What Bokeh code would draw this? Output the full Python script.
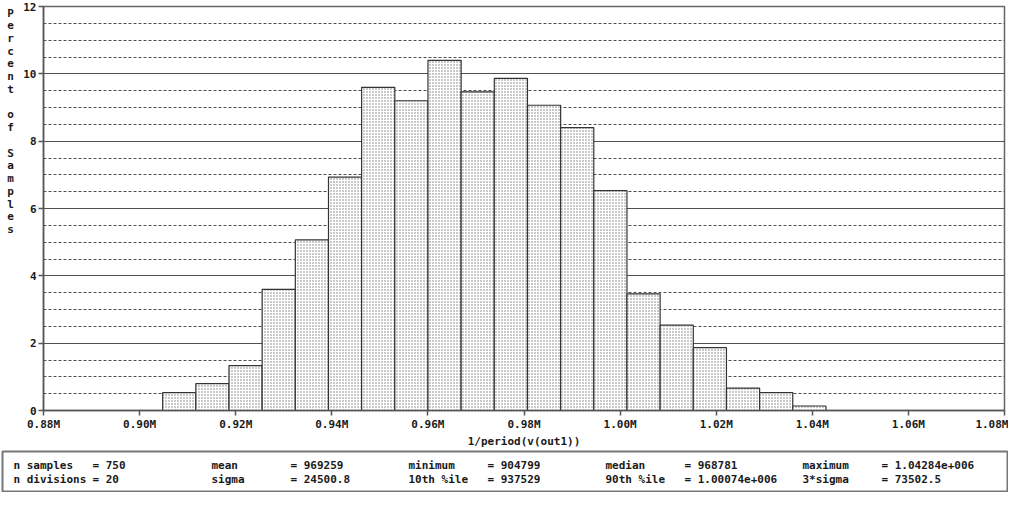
from bokeh.plotting import figure
from bokeh.models import Range1d, FixedTicker, Label
from bokeh.layouts import column, row
from bokeh.embed import file_html
from bokeh.resources import INLINE
from bokeh.core.properties import value

# ---------------- data ----------------
n_samples = 750
n_divisions = 20
minimum = 904799
maximum = 1042840
bin_counts = [4, 6, 10, 27, 38, 52, 72, 69, 78, 71, 74, 68, 63, 49, 26, 19, 14, 5, 4, 1]

x_ticks = [880000, 900000, 920000, 940000, 960000, 980000, 1000000, 1020000, 1040000, 1060000, 1080000]
x_tick_labels = ["0.88M", "0.90M", "0.92M", "0.94M", "0.96M", "0.98M", "1.00M", "1.02M", "1.04M", "1.06M", "1.08M"]
y_ticks = [0, 2, 4, 6, 8, 10, 12]
y_minor_ticks = [0.5, 1, 1.5, 2.5, 3, 3.5, 4.5, 5, 5.5, 6.5, 7, 7.5, 8.5, 9, 9.5, 10.5, 11, 11.5]

x_label = "1/period(v(out1))"
y_label = "Percent of Samples"

stat_names = [["n samples", "n divisions"], ["mean", "sigma"], ["minimum", "10th %ile"],
              ["median", "90th %ile"], ["maximum", "3*sigma"]]
stat_values = [["750", "20"], ["969259", "24500.8"], ["904799", "937529"],
               ["968781", "1.00074e+006"], ["1.04284e+006", "73502.5"]]

# ---------------- derived ----------------
bin_w = (maximum - minimum) / n_divisions
lefts = [minimum + i * bin_w for i in range(n_divisions)]
rights = [minimum + (i + 1) * bin_w for i in range(n_divisions)]
percents = [c / n_samples * 100 for c in bin_counts]

FONT = "DejaVu Sans Mono"
TXT = "#1a1a1a"
H_MAIN = 450
TOP, BOTTOM = 6, 34

# ---------------- stacked y label (narrow side figure) ----------------
side = figure(width=20, height=H_MAIN, x_range=Range1d(0, 20), y_range=Range1d(y_ticks[0], y_ticks[-1]),
              output_backend="svg", toolbar_location=None, x_axis_type=None, y_axis_type=None,
              min_border_left=0, min_border_right=0, min_border_top=TOP, min_border_bottom=BOTTOM)
side.xgrid.grid_line_color = None
side.ygrid.grid_line_color = None
side.outline_line_color = None
side.add_layout(Label(x=10, y=y_ticks[-1], text="\n".join(y_label),
                      text_align="center", text_baseline="top", text_font=FONT, text_font_style="bold",
                      text_font_size="11px", text_color=TXT, text_line_height=0.98))

# ---------------- main histogram ----------------
p = figure(width=988, height=H_MAIN,
           x_range=Range1d(x_ticks[0], x_ticks[-1]), y_range=Range1d(y_ticks[0], y_ticks[-1]),
           output_backend="svg", toolbar_location=None,
           min_border_left=20, min_border_right=4, min_border_top=TOP, min_border_bottom=BOTTOM)
p.background_fill_color = "white"
p.border_fill_color = "white"
p.outline_line_color = "#666666"
p.outline_line_width = 1.5

p.xgrid.grid_line_color = None
p.ygrid.grid_line_color = "#505050"
p.ygrid.grid_line_width = 1
p.ygrid.minor_grid_line_color = "#505050"
p.ygrid.minor_grid_line_dash = "3 2"
p.ygrid.minor_grid_line_width = 1

p.quad(left=lefts, right=rights, top=percents, bottom=0,
       fill_color="white", line_color="#333333", line_width=1.2,
       hatch_pattern="dot", hatch_color="#7a7a7a", hatch_scale=3, hatch_weight=1)

xa = p.xaxis[0]
xa.ticker = FixedTicker(ticks=x_ticks)
xa.major_label_overrides = {t: l for t, l in zip(x_ticks, x_tick_labels)}
xa.axis_label = x_label
ya = p.yaxis[0]
ya.ticker = FixedTicker(ticks=y_ticks, minor_ticks=y_minor_ticks)
ya.major_label_overrides = {t: str(t) for t in y_ticks}

for ax in (xa, ya):
    ax.axis_line_color = "#555555"
    ax.axis_line_width = 1.5
    ax.major_tick_line_color = "#555555"
    ax.major_tick_line_width = 1.5
    ax.major_tick_in = 0
    ax.major_tick_out = 5
    ax.minor_tick_line_color = None
    ax.major_label_text_font = FONT
    ax.major_label_text_font_style = "bold"
    ax.major_label_text_font_size = "11px"
    ax.major_label_text_color = TXT
    ax.axis_label_text_font = FONT
    ax.axis_label_text_font_style = "bold"
    ax.axis_label_text_font_size = "11px"
    ax.axis_label_text_color = TXT
xa.major_label_standoff = 2
xa.axis_label_standoff = 1
ya.major_label_standoff = 2

# ---------------- statistics box ----------------
t = figure(width=1008, height=42, x_range=Range1d(0, 1006), y_range=Range1d(0, 40),
           output_backend="svg", toolbar_location=None, x_axis_type=None, y_axis_type=None,
           min_border_left=2, min_border_right=0, min_border_top=1, min_border_bottom=1)
t.xgrid.grid_line_color = None
t.ygrid.grid_line_color = None
t.outline_line_color = "#777777"
t.outline_line_width = 2
t.background_fill_color = "white"
t.border_fill_color = "white"

col_name_x = [11, 209, 406, 603, 800]
col_val_x = [90, 288, 485, 682, 879]
row_y = [26, 12]
tx, ty, tt = [], [], []
for ci in range(len(stat_names)):
    for ri in range(2):
        tx.append(col_name_x[ci]); ty.append(row_y[ri]); tt.append(stat_names[ci][ri])
        tx.append(col_val_x[ci]); ty.append(row_y[ri]); tt.append("= " + stat_values[ci][ri])
t.text(x=tx, y=ty, text=tt, text_font=value(FONT), text_font_style="bold",
       text_font_size="11px", text_baseline="middle", text_align="left", text_color=TXT)

layout = column(row(side, p, spacing=0), t, spacing=0)
open("out.html", "w").write(file_html(layout, INLINE))
